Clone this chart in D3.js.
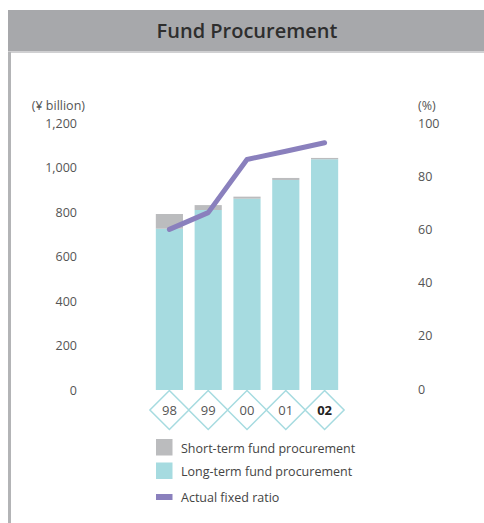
<!DOCTYPE html>
<html><head><meta charset="utf-8">
<script src="https://cdn.jsdelivr.net/npm/d3@7"></script>
<style>body{margin:0;background:#fff}svg{display:block}text{font-family:"Open Sans",sans-serif}</style>
</head><body><svg id="c" width="484" height="523"></svg>
<script>
const years = ["98","99","00","01","02"];
const shortTerm = [66, 22, 9, 9, 6];
const longTerm = [725, 809, 860, 944, 1037];
const fixedRatio = [60.0, 66.3, 86.3, 89.4, 92.6];
const leftTicks = [0, 200, 400, 600, 800, 1000, 1200];
const rightTicks = [0, 20, 40, 60, 80, 100];
const legendLabels = ["Short-term fund procurement", "Long-term fund procurement", "Actual fixed ratio"];

const svg = d3.select("#c");
const C = {short:"#bbbcbe", long:"#a6dbe0", line:"#8a80bd", text:"#555"};

// title bar
svg.append("rect").attr("x",8).attr("y",10).attr("width",476).attr("height",42).attr("fill","#a7a8ab");
svg.append("rect").attr("x",8).attr("y",51).attr("width",476).attr("height",2).attr("fill","#d0d0d2");
svg.append("rect").attr("x",8).attr("y",52).attr("width",3).attr("height",471).attr("fill","#b3b4b6");
svg.append("text").attr("x",247).attr("y",38).attr("text-anchor","middle")
  .attr("font-size",20).attr("font-weight",600).attr("fill","#2e2e2e").text("Fund Procurement");

const x = d3.scaleBand().domain(years).range([150,344]).paddingInner(0.3).paddingOuter(0.15);
const y = d3.scaleLinear().domain([0,1200]).range([390,123]);
const y2 = d3.scaleLinear().domain([0,100]).range([389,123]);

// axes
const la = svg.append("g").attr("transform","translate(77,0)")
  .call(d3.axisLeft(y).tickValues(leftTicks).tickSize(0).tickPadding(0).tickFormat(d3.format(",")));
la.select(".domain").remove();
la.selectAll("text").attr("font-size",12.5).attr("fill",C.text).attr("font-family","Open Sans");
const ra = svg.append("g").attr("transform","translate(418,0)")
  .call(d3.axisRight(y2).tickValues(rightTicks).tickSize(0).tickPadding(0));
ra.select(".domain").remove();
ra.selectAll("text").attr("font-size",12.5).attr("fill",C.text).attr("font-family","Open Sans");
svg.append("text").attr("x",85).attr("y",110).attr("text-anchor","end").attr("font-size",12.5).attr("fill",C.text).text("(¥ billion)");
svg.append("text").attr("x",418).attr("y",110).attr("font-size",12.5).attr("fill",C.text).text("(%)");

// bars
const g = svg.append("g");
years.forEach((yr,i)=>{
  g.append("rect").attr("x",x(yr)).attr("width",x.bandwidth())
    .attr("y",y(longTerm[i])).attr("height",y(0)-y(longTerm[i])).attr("fill",C.long);
  g.append("rect").attr("x",x(yr)).attr("width",x.bandwidth())
    .attr("y",y(longTerm[i]+shortTerm[i])).attr("height",y(longTerm[i])-y(longTerm[i]+shortTerm[i])).attr("fill",C.short);
});

// line
const line = d3.line().x((d,i)=>x(years[i])+x.bandwidth()/2).y(d=>y2(d));
svg.append("path").datum(fixedRatio).attr("d",line).attr("fill","none")
  .attr("stroke",C.line).attr("stroke-width",5).attr("stroke-linecap","round").attr("stroke-linejoin","round");

// diamond x labels
const xg = svg.append("g");
years.forEach((yr,i)=>{
  const cx = x(yr)+x.bandwidth()/2, cy=410, r=19.5;
  xg.append("path").attr("d",`M${cx},${cy-r}L${cx+r},${cy}L${cx},${cy+r}L${cx-r},${cy}Z`)
    .attr("fill","#fff").attr("stroke",C.long).attr("stroke-width",1.5);
  xg.append("text").attr("x",cx).attr("y",cy+4.5).attr("text-anchor","middle")
    .attr("font-size",13).attr("fill",i===4?"#222":C.text).attr("font-weight",i===4?700:400).text(yr);
});

// legend
const lg = svg.append("g");
[C.short, C.long].forEach((c,i)=>{
  lg.append("rect").attr("x",156).attr("y",439+i*23.5).attr("width",16.5).attr("height",16.5).attr("fill",c);
});
lg.append("rect").attr("x",156).attr("y",494).attr("width",16.5).attr("height",6).attr("fill",C.line);
legendLabels.forEach((t,i)=>{
  lg.append("text").attr("x",181).attr("y",[452.5,476,502][i]).attr("font-size",12.5).attr("fill","#444").text(t);
});
</script></body></html>
